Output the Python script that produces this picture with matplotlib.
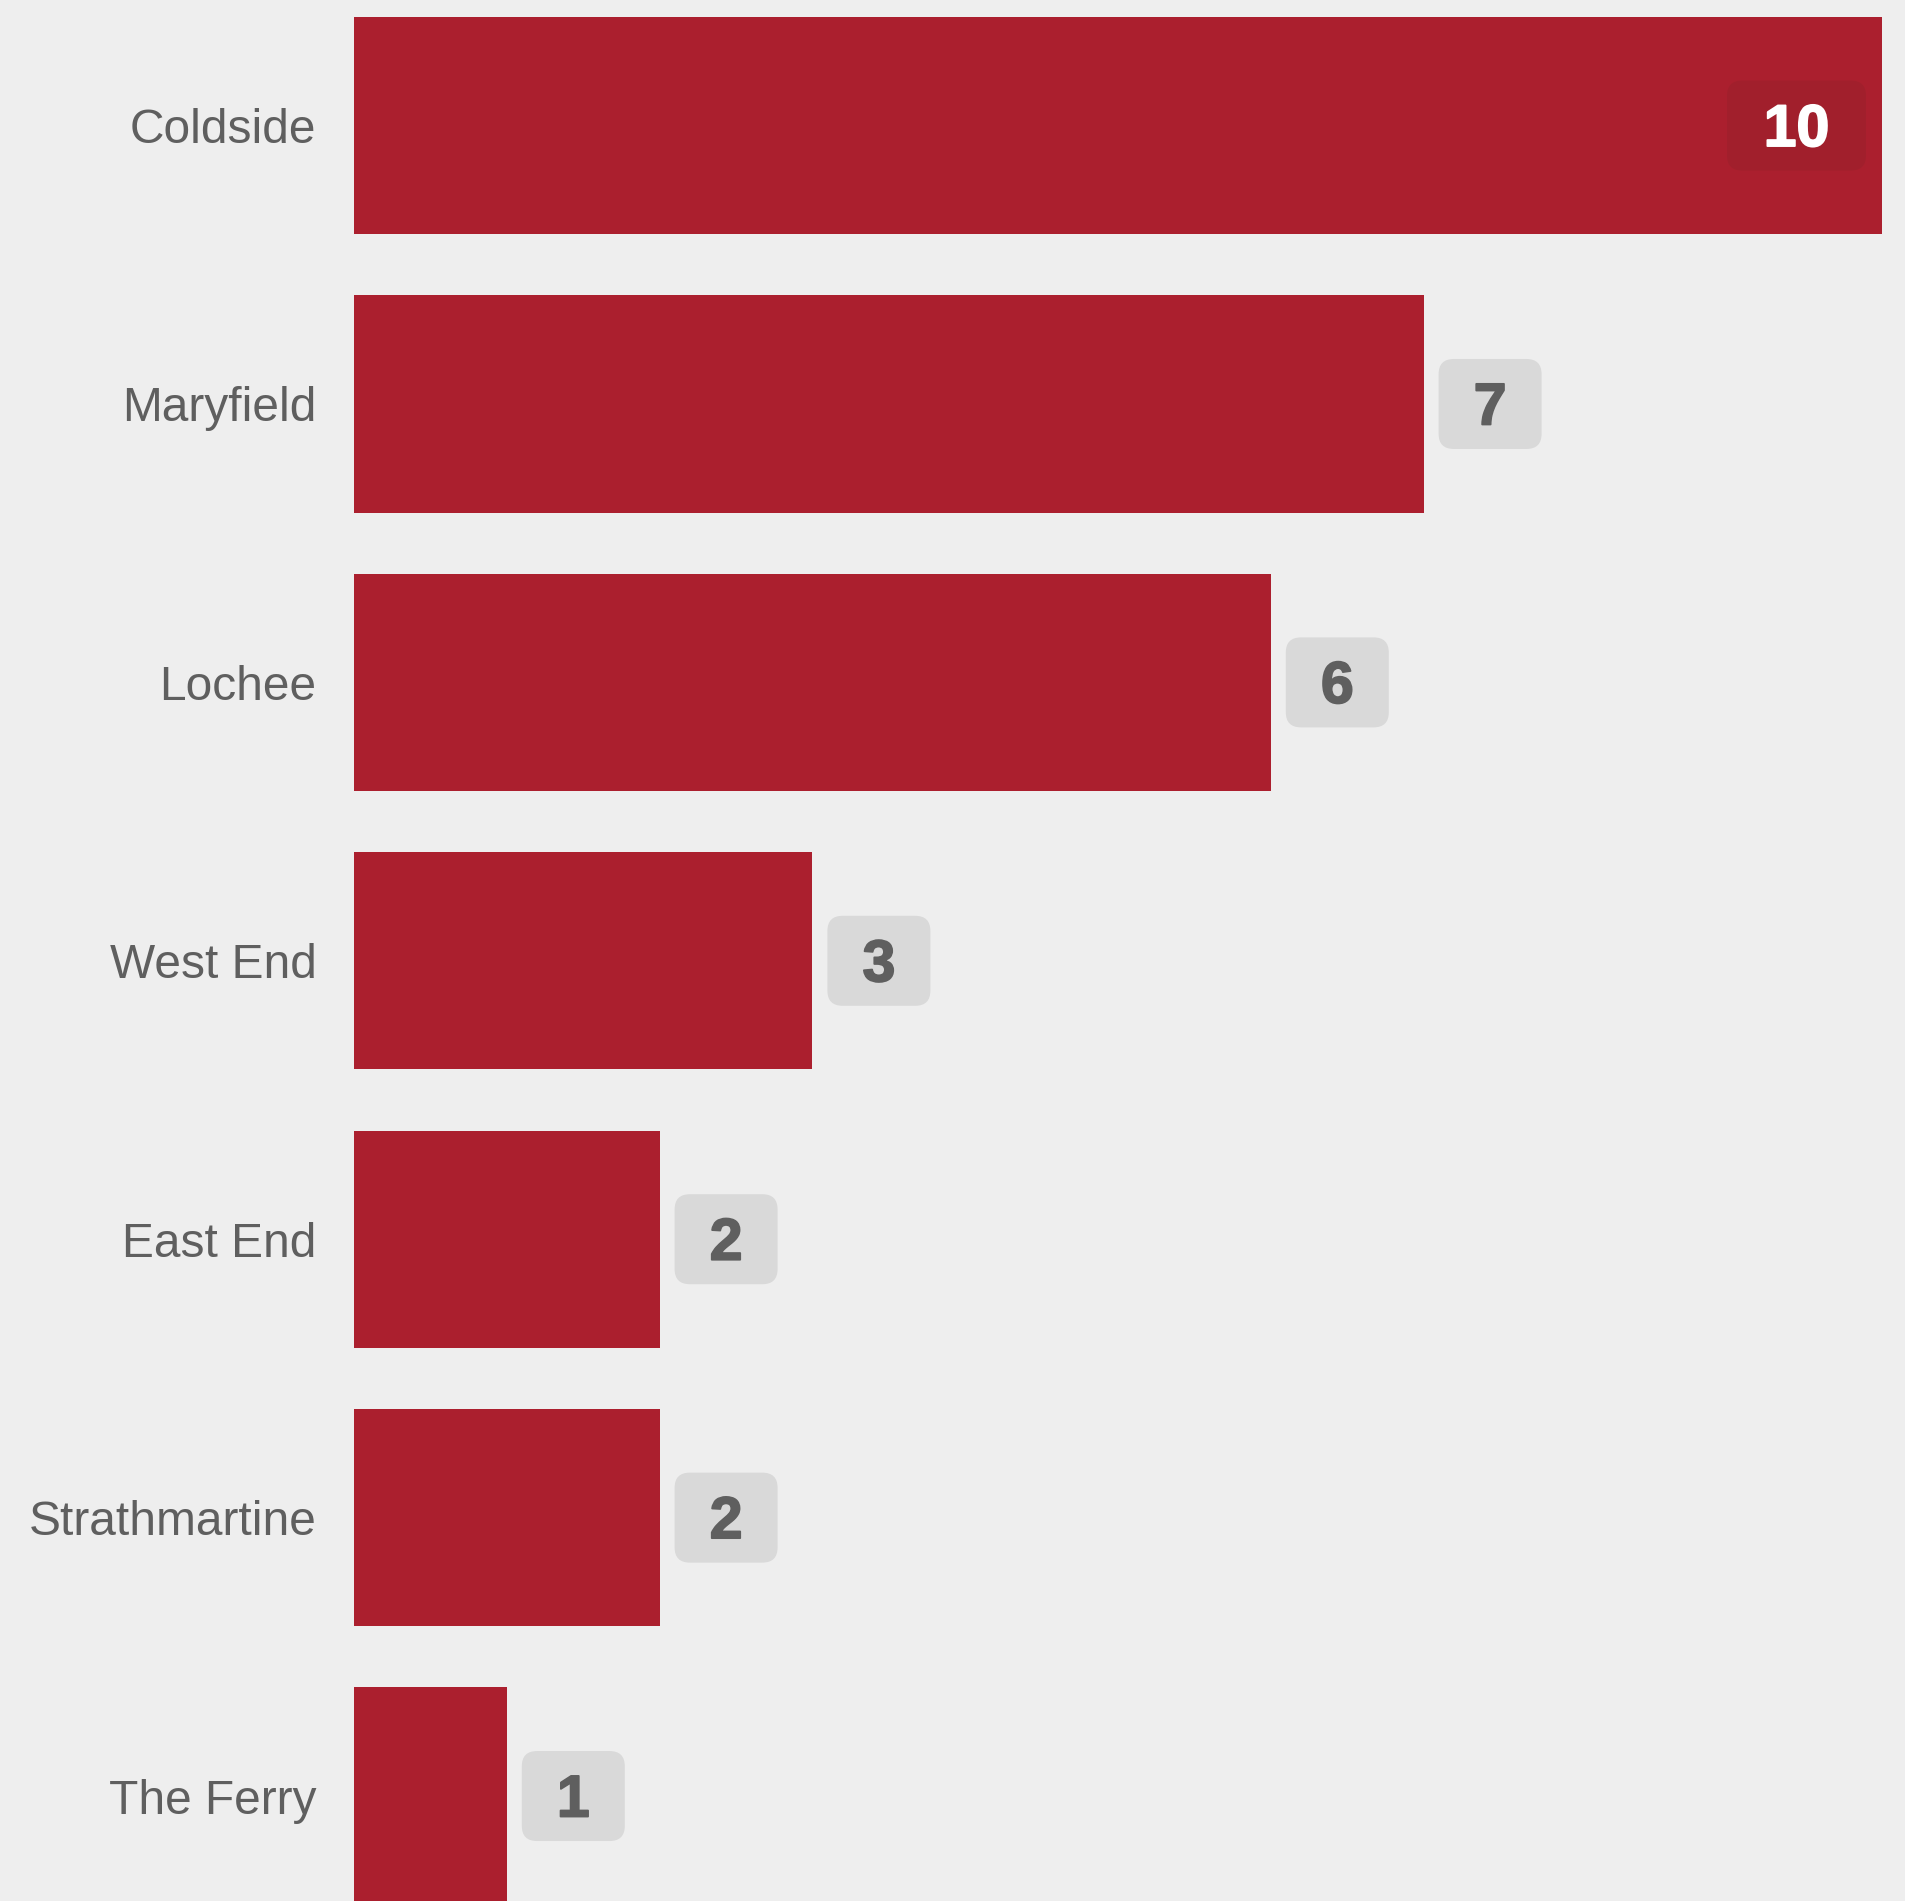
import matplotlib
matplotlib.use("Agg")
import matplotlib.pyplot as plt
import matplotlib.patheffects as pe
from matplotlib.patches import FancyBboxPatch

# wards and counts
wards = ["Coldside", "Maryfield", "Lochee", "West End", "East End",
         "Strathmartine", "The Ferry"]
counts = [10, 7, 6, 3, 2, 2, 1]

BG = "#eeeeee"
BAR = "#ab1f2e"
GREY_TXT = "#5f5f5f"

plt.rcParams['font.family'] = ['Liberation Sans', 'DejaVu Sans']

W, H = 1906, 1901
fig = plt.figure(figsize=(W / 100, H / 100), dpi=100, facecolor=BG)
ax = fig.add_axes([354 / W, 0, 1528 / W, 1])
ax.set_facecolor(BG)

pos = list(range(len(wards)))
ax.barh(pos, counts, height=0.78, color=BAR, linewidth=0)
ax.set_xlim(0, max(counts))
ax.set_ylim(6.377, -0.451)
ax.set_yticks(pos)
ax.set_yticklabels(wards, fontsize=34.5, color=GREY_TXT)
ax.tick_params(axis='y', length=0, pad=27)
ax.set_xticks([])
for s in ax.spines.values():
    s.set_visible(False)

# value badges, sized in pixels
to_fig = fig.transFigure.inverted()
box_h = 90
for i, v in enumerate(counts):
    px, py = ax.transData.transform((v, i))
    label = str(v)
    box_w = 36 * len(label) + 67
    if v == max(counts):
        x0 = px - 16 - box_w
        face, tcol = "#a11f2c", "white"
    else:
        x0 = px + 15
        face, tcol = "#d9d9d9", GREY_TXT
    y0 = py - box_h / 2
    (fx0, fy0) = to_fig.transform((x0, y0))
    (fx1, fy1) = to_fig.transform((x0 + box_w, y0 + box_h))
    patch = FancyBboxPatch((fx0, fy0), fx1 - fx0, fy1 - fy0,
                           boxstyle="round,pad=0,rounding_size=0.008",
                           transform=fig.transFigure, facecolor=face,
                           edgecolor="none", zorder=3)
    fig.patches.append(patch)
    tx, ty = to_fig.transform((x0 + box_w / 2, py - 20.5))
    fig.text(tx, ty, label, ha='center', va='baseline', fontsize=42.5,
             fontweight='bold', color=tcol, zorder=4,
             path_effects=[pe.withStroke(linewidth=1.3, foreground=tcol)])

fig.savefig("out.png", dpi=100, facecolor=BG)
